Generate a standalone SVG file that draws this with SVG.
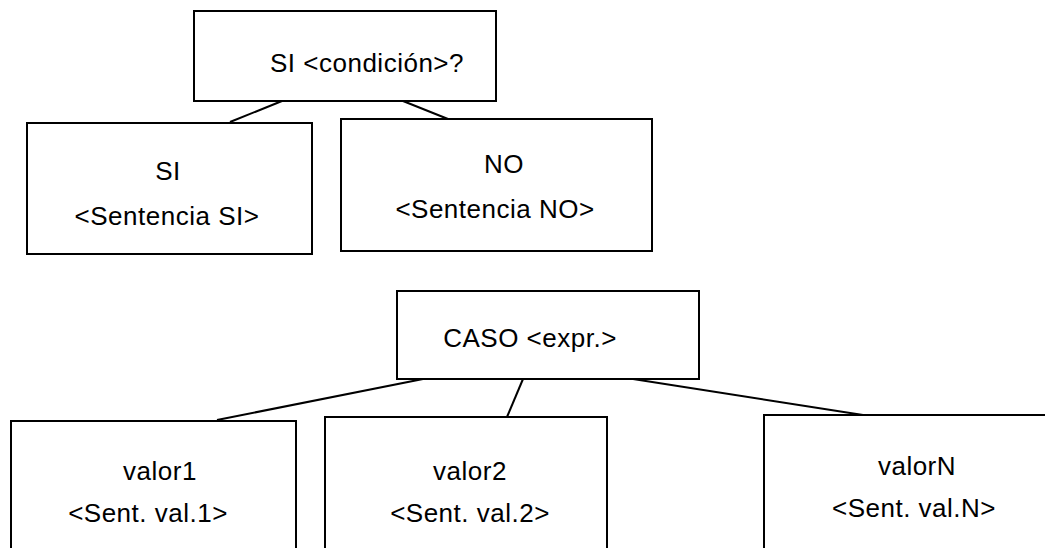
<svg xmlns="http://www.w3.org/2000/svg" width="1045" height="548" viewBox="0 0 1045 548">
<style>
.box{fill:#fff;stroke:#000;stroke-width:2}
.t{font-family:"Liberation Sans",Arial,sans-serif;font-size:26px;fill:#000;letter-spacing:0.5px;text-anchor:middle}
.c{stroke:#000;stroke-width:2;fill:none}
</style>
<rect width="1045" height="548" fill="#fff"/>
<g id="connectors">
<line class="c" x1="282" y1="101" x2="230" y2="122"/>
<line class="c" x1="403" y1="101" x2="448" y2="119"/>
<line class="c" x1="423" y1="379" x2="217" y2="420"/>
<line class="c" x1="523" y1="379" x2="507" y2="417"/>
<line class="c" x1="633" y1="379" x2="863" y2="415"/>
</g>
<g id="si-cond">
<rect class="box" x="194" y="11" width="302" height="90"/>
<text class="t" x="367" y="72">SI &lt;condición&gt;?</text>
</g>
<g id="si">
<rect class="box" x="27" y="123" width="285" height="131"/>
<text class="t" x="168" y="180">SI</text>
<text class="t" x="167" y="225">&lt;Sentencia SI&gt;</text>
</g>
<g id="no">
<rect class="box" x="341" y="119" width="311" height="132"/>
<text class="t" x="504" y="173">NO</text>
<text class="t" x="495" y="218">&lt;Sentencia NO&gt;</text>
</g>
<g id="caso">
<rect class="box" x="397" y="291" width="302" height="88"/>
<text class="t" x="530" y="347">CASO &lt;expr.&gt;</text>
</g>
<g id="valor1">
<rect class="box" x="11" y="421" width="285" height="140"/>
<text class="t" x="160" y="480">valor1</text>
<text class="t" x="148" y="522">&lt;Sent. val.1&gt;</text>
</g>
<g id="valor2">
<rect class="box" x="325" y="417" width="282" height="144"/>
<text class="t" x="470" y="480">valor2</text>
<text class="t" x="470" y="522">&lt;Sent. val.2&gt;</text>
</g>
<g id="valorN">
<rect class="box" x="764" y="415" width="290" height="146"/>
<text class="t" x="917" y="475">valorN</text>
<text class="t" x="914" y="517">&lt;Sent. val.N&gt;</text>
</g>
</svg>
